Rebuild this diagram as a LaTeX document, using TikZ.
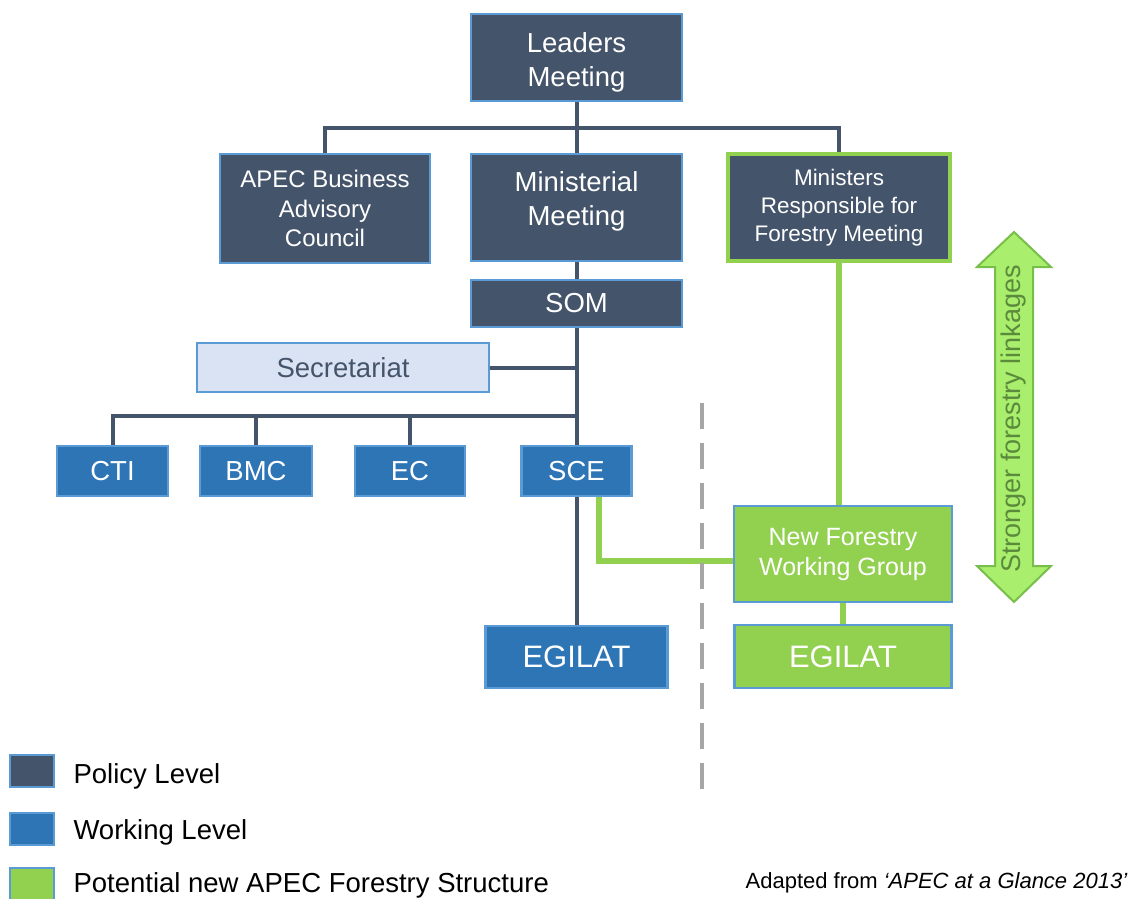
\documentclass[tikz,border=0pt]{standalone}
\usepackage{fontspec}
\setmainfont{Liberation Sans}
\usepackage{xcolor}
\usetikzlibrary{calc,positioning}
\definecolor{policy}{HTML}{44546A}
\definecolor{working}{HTML}{2E75B6}
\definecolor{newgreen}{HTML}{92D050}
\definecolor{edgeblue}{HTML}{5B9BD5}
\definecolor{secfill}{HTML}{DAE3F3}
\definecolor{arrowfill}{HTML}{A9EE6C}
\definecolor{arrowedge}{HTML}{78BE4A}
\definecolor{arrowtext}{HTML}{5A8A3C}
\tikzset{
  unit/.style={rectangle,draw=edgeblue,line width=2.5pt,inner sep=0pt,
    text=white,align=center,font=\fontsize{27.5}{34}\selectfont},
  pol/.style={unit,fill=policy},
  wrk/.style={unit,fill=working},
  grn/.style={unit,fill=newgreen},
  secbox/.style={unit,fill=secfill,text=policy},
  link/.style={draw=policy,line width=4pt},
  glink/.style={draw=newgreen,line width=6pt},
  dashline/.style={draw=black!35,line width=3.5pt,dash pattern=on 26pt off 14pt},
  legbox/.style={rectangle,draw=edgeblue,line width=1.5pt,minimum width=44pt,
    minimum height=32pt,inner sep=0pt},
  legtext/.style={anchor=west,font=\fontsize{27.5}{31}\selectfont},
}
\begin{document}
\begin{tikzpicture}[x=1pt,y=-1pt]
  \useasboundingbox (0,0) rectangle (1131,898);
  % top level
  \node[pol,minimum width=211pt,minimum height=87pt] (lead) at (576.5,57.5)
    {\raisebox{-11pt}[0pt][0pt]{\begin{tabular}{@{}c@{}}Leaders\\Meeting\end{tabular}}};
  \node[pol,minimum width=210pt,minimum height=109pt,
    font=\fontsize{24}{29.5}\selectfont] (abac) at (325,208.5)
    {APEC Business\\Advisory\\Council};
  \node[pol,minimum width=211pt,minimum height=107pt] (mini) at (576.5,207.5)
    {\raisebox{0pt}[0pt][0pt]{\begin{tabular}{@{}c@{}}Ministerial\\Meeting\end{tabular}}};
  \node[pol,draw=newgreen,line width=4.5pt,minimum width=222pt,minimum height=107pt,
    font=\fontsize{22.5}{28}\selectfont] (mrfm) at (839,207.5)
    {Ministers\\Responsible for\\Forestry Meeting};
  \node[pol,minimum width=211pt,minimum height=47pt] (som) at (576.5,303.5) {SOM};
  \node[secbox,minimum width=292pt,minimum height=49pt] (secr) at (343,367.5)
    {Secretariat};
  % working groups
  \node[wrk,minimum width=111pt,minimum height=50pt] (cti) at (112.5,471) {CTI};
  \node[wrk,minimum width=112pt,minimum height=50pt] (bmc) at (256,471) {BMC};
  \node[wrk,minimum width=110pt,minimum height=50pt] (ec) at (410,471) {EC};
  \node[wrk,minimum width=110pt,minimum height=50pt] (sce) at (576.5,471) {SCE};
  \node[wrk,minimum width=182pt,minimum height=62pt,
    font=\fontsize{31}{36}\selectfont] (egb) at (576.5,657) {EGILAT};
  % proposed forestry structure
  \node[grn,minimum width=218pt,minimum height=96pt,
    font=\fontsize{25}{30}\selectfont] (nfwg) at (843,554)
    {New Forestry\\Working Group};
  \node[grn,minimum width=217pt,minimum height=63pt,
    font=\fontsize{31}{36}\selectfont] (egg) at (843,656.5) {EGILAT};

  \coordinate (bar1) at (576.5,128);
  \coordinate (bar2) at (576.5,416);
  \draw[link] (lead) -- (mini);
  \draw[link] (abac.north) |- (bar1) -| (mrfm.north);
  \draw[link] (mini) -- (som);
  \draw[link] (som.south) -- (sce.north);
  \draw[link] (secr.east) -- (secr.east -| som.south);
  \draw[link] (cti.north) |- (bar2);
  \draw[link] (bmc.north) -- (bmc.north |- bar2);
  \draw[link] (ec.north) -- (ec.north |- bar2);
  \draw[link] (sce.south) -- (egb.north);
  \draw[glink] ([xshift=22pt]sce.south) |- ([yshift=-7pt]nfwg.west);
  \draw[glink] (mrfm.south) -- (mrfm.south |- nfwg.north);
  \draw[glink] (nfwg.south) -- (egg.north);

  \coordinate (d1) at (702,403);
  \coordinate (d2) at (702,790);
  \draw[dashline] (d1) -- (d2);

  % double arrow
  \filldraw[fill=arrowfill,draw=arrowedge,line width=2pt,line join=miter]
    (1014,232) -- (1051,267) -- (1033,267) -- (1033,566) -- (1051,566)
    -- (1014,602) -- (977,566) -- (995,566) -- (995,267) -- (977,267) -- cycle;
  \node[rotate=90,text=arrowtext,font=\fontsize{27}{30}\selectfont] (link)
    at (1014,419) {Stronger forestry linkages};

  % legend
  \node[legbox,fill=policy] (lp) at (32,771) {};
  \node[legbox,fill=working] (lw) at (32,829) {};
  \node[legbox,fill=newgreen] (lg) at (32,884) {};
  \node[legtext] at (70,776) {Policy Level};
  \node[legtext] at (70,832) {Working Level};
  \node[legtext] at (70,885) {Potential new APEC Forestry Structure};
  \node[anchor=east,font=\fontsize{22}{26}\selectfont] (src) at (1131,883)
    {Adapted from \textit{‘APEC at a Glance 2013’}};
\end{tikzpicture}
\end{document}
